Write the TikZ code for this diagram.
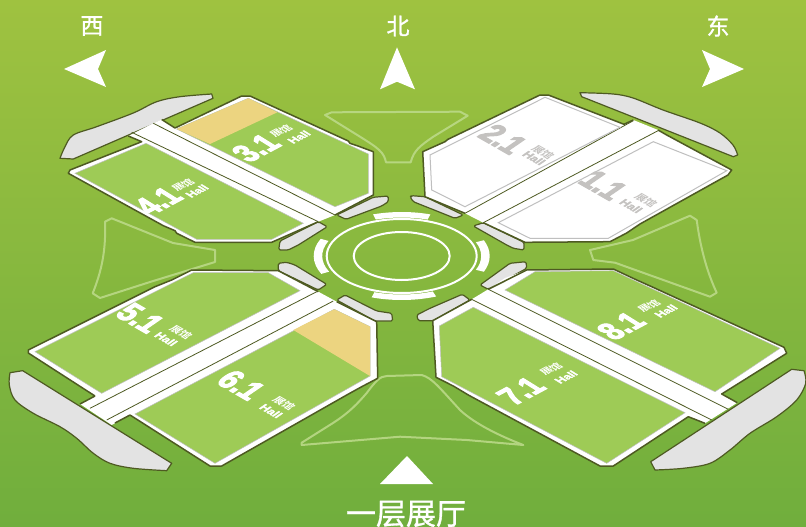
\documentclass[tikz,border=0pt]{standalone}
\usepackage{fontspec}
\setmainfont{Liberation Sans}
\newfontfamily\numf{Liberation Sans}[BoldFeatures={FakeBold=4}]
\newfontfamily\halfont{Liberation Sans}[BoldFeatures={FakeBold=2}]
\newfontfamily\cjk{Noto Sans CJK SC}
\newfontfamily\cjkb{Noto Sans CJK SC Bold}
\newfontfamily\cjkt{Noto Sans CJK SC}[FakeBold=1]
\usetikzlibrary{calc}
\definecolor{bgtop}{HTML}{9FC240}
\definecolor{bgbot}{HTML}{70AE3D}
\definecolor{olive}{HTML}{4E5A22}
\definecolor{grassin}{HTML}{9ECB56}
\definecolor{beige}{HTML}{ECD480}
\definecolor{piece}{HTML}{E3E3E3}
\definecolor{ghostc}{HTML}{BEDB8C}
\definecolor{greytxt}{HTML}{C4C2C0}
\tikzset{
  whitepart/.style={fill=white,draw=none},
  edgeline/.style={draw=olive,line width=1.5pt,line join=round},
  thinline/.style={draw=olive,line width=.8pt},
  piecepart/.style={fill=piece,draw=olive,line width=1.2pt,line join=round},
  bigpiece/.style={fill=piece,draw=olive,line width=1.2pt,line join=round},
  greenin/.style={fill=grassin,draw=black!25!white,line width=.5pt},
  beigepart/.style={fill=beige,draw=none},
  innerbox/.style={fill=white,draw=black!25,line width=1pt},
  ghostline/.style={draw=ghostc,opacity=.85,line width=2pt,line join=round},
  ringthin/.style={draw=white,line width=2pt},
  ringband/.style={fill=white,draw=none},
  arrowpart/.style={fill=white,draw=none},
  groupA/.style={transform shape,inner sep=0pt},
  labA/.style={groupA,cm={.87,.46,-.84,.52,(#1)}},
  labB/.style={groupA,cm={.87,-.5,.82,.57,(#1)}},
  numA/.style={groupA,cm={.77,.41,-.92,.57,(#1)}},
  numB/.style={groupA,cm={.77,-.44,.9,.62,(#1)}},
  bignum/.style={font=\numf\bfseries\fontsize{31}{31}\selectfont},
  smallc/.style={font=\cjkb\fontsize{10.5}{10.5}\selectfont},
  smallh/.style={font=\halfont\bfseries\fontsize{11.5}{11.5}\selectfont},
  compass/.style={text=white,font=\cjkt\fontsize{23}{23}\selectfont},
}
\newcommand{\bandseg}[2]{\fill[ringband] (#1:88pt and 44pt) arc[start angle=#1,end angle=#2,x radius=88pt,y radius=44pt] -- (#2:79.5pt and 38.5pt) arc[start angle=#2,end angle=#1,x radius=79.5pt,y radius=38.5pt] -- cycle;}
\begin{document}
\begin{tikzpicture}[x=1pt,y=-1pt]
\useasboundingbox (0,0) rectangle (806,527);
\shade[top color=bgtop,bottom color=bgbot] (0,0) rectangle (806,527);
% ghost outlines
\draw[ghostline] (325,115) -- (331.7,112.3) -- (460,111.7) -- (467.7,115.7) -- (433.3,136.7) .. controls (420,146) and (414,150) .. (410.7,162.3) -- (386,162.3) .. controls (384,152) and (378,148) .. (360,136.7) -- cycle;
\draw[ghostline] (105,221.7) -- (111.7,218.3) -- (173,243) -- (215,250) -- (215,262) -- (150,282) -- (100,298) -- (92.7,293.3) .. controls (102,270) and (106,250) .. cycle;
\draw[ghostline] (696.7,220) -- (690,215.7) -- (633,240) -- (590,250) -- (593.3,260) -- (615,262.7) -- (710,296.7) -- (716.7,292.7) .. controls (706,270) and (700,245) .. cycle;
\draw[ghostline] (301.7,445) -- (301.7,442.7) -- (333,423) .. controls (350,412) and (358,403) .. (366.7,393) .. controls (375,382) and (380,376) .. (386.7,376) -- (421.7,375) .. controls (432,378) and (438,386) .. (460,410) .. controls (475,424) and (500,436) .. (523.3,445) -- (466.7,440) -- (400,436.7) -- cycle;
% large grey pieces
\draw[bigpiece] plot[smooth,tension=.55] coordinates {(60,158.3) (65,146.7) (73.3,135) (96.7,126.7) (133.3,113) (156.7,101.7) (180,96.7) (211.7,94)} -- (213,98.3) -- (73.3,159) -- cycle;
\draw[bigpiece] plot[smooth,tension=.55] coordinates {(580,92.7) (613,94) (633,98) (663,110) (700,123) (720,133) (733,145) (737.7,155)} -- (733.3,156.7) -- (581.7,96.7) -- cycle;
\draw[bigpiece] plot[smooth,tension=.55] coordinates {(10,372.7) (9.3,385) (15,400) (33.3,413.3) (60,426.7) (76.7,438.3) (93.3,453.3) (110,463.3) (133.3,468.3) (166.7,470.7)} -- (171.7,463.3) -- (22.7,370.7) -- cycle;
\draw[bigpiece] plot[smooth,tension=.55] coordinates {(655,470) (683.3,468.3) (710,463.3) (730,450) (750,433.3) (776.7,416.7) (796.7,400) (805.7,383.3) (804,370.7)} -- (791.7,369.3) -- (650.7,461.7) -- cycle;
% small grey pieces
\draw[piecepart,rounded corners=1.5pt] (336.7,215) -- (373.3,197.3) -- (388.3,196) -- (388.3,201.7) -- (381.7,206) -- (346,219.3) -- cycle;
\draw[piecepart,rounded corners=1.5pt] (318.3,221.7) -- (280,241) -- (278.7,250) -- (288.3,250) -- (298.3,245) -- (327.3,226.7) -- cycle;
\draw[piecepart,rounded corners=1.5pt] (410,196.7) -- (411.7,195.7) -- (425,196.7) -- (463.3,215) -- (455,218.3) -- (413.3,201.7) -- cycle;
\draw[piecepart,rounded corners=1.5pt] (473.3,226) -- (483.3,222.7) -- (524,242.3) -- (524,250) -- (513.3,248.3) -- (506.7,245) -- cycle;
\draw[piecepart,rounded corners=1.5pt] (278.3,263.3) -- (286.7,262.3) -- (295,265) -- (326.7,284.3) -- (318.3,290) -- (278.3,270.7) -- cycle;
\draw[piecepart,rounded corners=1.5pt] (336.7,300) -- (345,295) -- (376.7,311) -- (391.7,313.3) -- (392.7,321) -- (375,321) -- cycle;
\draw[piecepart,rounded corners=1.5pt] (480,285) -- (510,263.3) -- (526,261.7) -- (526.7,268.3) -- (488.3,289.3) -- cycle;
\draw[piecepart,rounded corners=1.5pt] (416.7,315) -- (418.3,320.7) -- (433.3,320.7) -- (470,300) -- (462.3,294.3) -- (430,308.3) -- cycle;
% NW block
\fill[whitepart] (153.3,123.3) -- (161.7,119.5) -- (175,128) -- (241.7,96) -- (250,96) -- (348.3,141) -- (350,143.3) -- (358,146) -- (373.3,151.7) -- (373.3,195) -- (335,215) -- (318.3,221.7) -- (271.7,242.3) -- (195,242.3) -- (176.7,233.3) -- (175,230.7) -- (163.3,225.7) -- (68.3,173.3) -- (70,170) -- (141.7,141.7) -- (128.3,136) -- cycle;
\draw[edgeline] (161.7,119.5) -- (175,128) -- (241.7,96) -- (250,96) -- (348.3,141) -- (350,143.3) -- (358,146) -- (373.3,151.7) -- (373.3,195) -- (335,215);
\draw[edgeline] (318.3,221.7) -- (271.7,242.3) -- (195,242.3) -- (176.7,233.3) -- (175,230.7) -- (163.3,225.7) -- (68.3,173.3) -- (70,170) -- (141.7,141.7) -- (128.3,136);
\draw[thinline] (153.3,123.3) -- (335,215);
\draw[thinline] (131.7,132.3) -- (318.3,221.7);
\path[greenin] (176.7,129) -- (248.3,98.3) -- (368.3,154) -- (368.3,193.3) -- (335,206.7) -- cycle;
\fill[beigepart] (176.7,129) -- (248.3,98.3) -- (277.3,112.3) -- (210,144) -- cycle;
\path[greenin] (75,173.3) -- (146,143.3) -- (303.3,223.3) -- (271.7,239.3) -- (196.7,239.3) -- cycle;
% NE block
\fill[whitepart] (422.7,151.7) -- (445,141.7) -- (448,139.3) -- (540,95) -- (548.3,95) -- (624,124.3) -- (633.3,120) -- (658,130) -- (666.7,135) -- (731.7,170) -- (728,175) -- (640,224) -- (626.7,233) -- (610,241.7) -- (525,242.3) -- (483.3,222.7) -- (465,213.3) -- (425,196.7) -- cycle;
\draw[edgeline] (633.3,120) -- (624,124.3) -- (548.3,95) -- (540,95) -- (448,139.3) -- (445,141.7) -- (422.7,151.7) -- (425,196.7) -- (465,213.3);
\draw[edgeline] (658,130) -- (666.7,135) -- (731.7,170) -- (728,175) -- (640,224) -- (626.7,233) -- (610,241.7) -- (525,242.3) -- (483.3,222.7);
\draw[thinline] (633.3,120.7) -- (465,213.3);
\draw[thinline] (658,130.7) -- (483.3,222.7);
\path[innerbox] (430,155) -- (545,97.3) -- (620,127.3) -- (465,206.7) -- (431.7,190) -- cycle;
\path[innerbox] (653.3,141.7) -- (726.7,170.7) -- (608.3,238.3) -- (530,238.3) -- (498.3,222.7) -- cycle;
% SW block
\fill[whitepart] (28.3,350) -- (155,286.7) -- (171.7,280) -- (191.7,270) -- (278.3,270.7) -- (318.3,291.7) -- (336.7,301.7) -- (376.7,321.7) -- (377.7,378.3) -- (361.7,386.7) -- (346.7,395) -- (221.7,466) -- (210,466) -- (130,415) -- (111.7,425) -- (80,404) -- (95,396) -- (28.3,353) -- cycle;
\draw[edgeline] (95,396) -- (28.3,353) -- (28.3,350) -- (155,286.7) -- (171.7,280) -- (191.7,270) -- (278.3,270.7) -- (318.3,291.7);
\draw[edgeline] (336.7,301.7) -- (376.7,321.7) -- (377.7,378.3) -- (361.7,386.7) -- (346.7,395) -- (221.7,466) -- (210,466) -- (130,415);
\draw[edgeline] (95,396) -- (80,404);
\draw[edgeline] (130,415) -- (115,423);
\draw[thinline] (316.7,291.7) -- (90,408.3);
\draw[thinline] (333.3,301) -- (106.7,420);
\path[greenin] (35,351.7) -- (193.3,272.7) -- (268.3,272.7) -- (300,290.7) -- (101.7,393.3) -- cycle;
\path[greenin] (334.3,309.3) -- (370,326.7) -- (370,376) -- (215,463.3) -- (135,414) -- cycle;
\fill[beigepart] (334.3,309.3) -- (370,326.7) -- (370,376) -- (293.3,330) -- cycle;
% SE block
\fill[whitepart] (488.3,289.3) -- (505,278) -- (526.7,270) -- (613.3,269) -- (636.7,280) -- (651.7,286.7) -- (784,347.3) -- (786.7,353.3) -- (721.7,394) -- (737.3,402.7) -- (705,423.3) -- (688.3,416.7) -- (613.3,466) -- (600,466) -- (468.3,395) -- (453.3,386) -- (436,377.3) -- (432.7,320.7) -- (471.7,299.3) -- cycle;
\draw[edgeline] (488.3,289.3) -- (526.7,270) -- (613.3,269) -- (636.7,280) -- (651.7,286.7) -- (784,347.3) -- (786.7,353.3) -- (721.7,394) -- (737.3,402.7);
\draw[edgeline] (705,423.3) -- (688.3,416.7) -- (613.3,466) -- (600,466) -- (468.3,395) -- (453.3,386) -- (436,377.3) -- (432.7,320.7) -- (471.7,299.3);
\draw[thinline] (488.3,289.3) -- (728.3,409.3);
\draw[thinline] (471.7,299.3) -- (711.7,420);
\path[greenin] (505,290) -- (535,271.7) -- (613.3,270.7) -- (780,348.3) -- (715,391.7) -- cycle;
\path[greenin] (439.3,326) -- (473.3,307.3) -- (685,412.7) -- (606.7,463.3) -- (441.7,376.7) -- cycle;
% centre rings
\begin{scope}[shift={(401.7,256)}]
\draw[ringthin] (0:48pt and 24pt) arc[start angle=0,end angle=360,x radius=48pt,y radius=24pt];
\draw[ringthin] (0:75pt and 37pt) arc[start angle=0,end angle=360,x radius=75pt,y radius=37pt];
\bandseg{71}{109}
\bandseg{250}{293}
\bandseg{157}{204}
\bandseg{-21}{21}
\end{scope}
% compass
\node[compass] (west) at (92,26) {西};
\node[compass] (north) at (398,26) {北};
\node[compass] (east) at (718,26) {东};
\fill[arrowpart] (64,69) -- (106,50) -- (98,69) -- (106,87) -- cycle;
\fill[arrowpart] (744,69) -- (702,50) -- (710,69) -- (702,87) -- cycle;
\fill[arrowpart] (397,47.3) -- (415,89.3) -- (397,81.7) -- (380,89.3) -- cycle;
\fill[arrowpart] (380,484) -- (433,484) -- (407,456) -- cycle;
\node[text=white,font=\cjkt\fontsize{30}{30}\selectfont,inner sep=0pt] (floor) at (406,514) {一层展厅};
% hall labels
\node[numA={158,201},bignum,text=white] (n41) at (0,0) {4.1};
\node[labA={183,185},smallc,text=white] (c41) at (0,0) {展馆};
\node[labA={197,191},smallh,text=white] (h41) at (0,0) {Hall};
\node[numA={256,148},bignum,text=white] (n31) at (0,0) {3.1};
\node[labA={281,131},smallc,text=white] (c31) at (0,0) {展馆};
\node[labA={299,137},smallh,text=white] (h31) at (0,0) {Hall};
\node[numA={521,391},bignum,text=white] (n71) at (0,0) {7.1};
\node[labA={551,369},smallc,text=white] (c71) at (0,0) {展馆};
\node[labA={566,377},smallh,text=white] (h71) at (0,0) {Hall};
\node[numA={621,326},bignum,text=white] (n81) at (0,0) {8.1};
\node[labA={649,306},smallc,text=white] (c81) at (0,0) {展馆};
\node[labA={666,311},smallh,text=white] (h81) at (0,0) {Hall};
\node[numB={503,139},bignum,text=greytxt] (n21) at (0,0) {2.1};
\node[labB={543,152},smallc,text=greytxt] (c21) at (0,0) {展馆};
\node[labB={534,158},smallh,text=greytxt] (h21) at (0,0) {Hall};
\node[numB={603,185},bignum,text=greytxt] (n11) at (0,0) {1.1};
\node[labB={646,200},smallc,text=greytxt] (c11) at (0,0) {展馆};
\node[labB={631,206},smallh,text=greytxt] (h11) at (0,0) {Hall};
\node[numB={140,318},bignum,text=white] (n51) at (0,0) {5.1};
\node[labB={181,332},smallc,text=white] (c51) at (0,0) {展馆};
\node[labB={166,339},smallh,text=white] (h51) at (0,0) {Hall};
\node[numB={241,385},bignum,text=white] (n61) at (0,0) {6.1};
\node[labB={284,403},smallc,text=white] (c61) at (0,0) {展馆};
\node[labB={271,411},smallh,text=white] (h61) at (0,0) {Hall};
\end{tikzpicture}
\end{document}
